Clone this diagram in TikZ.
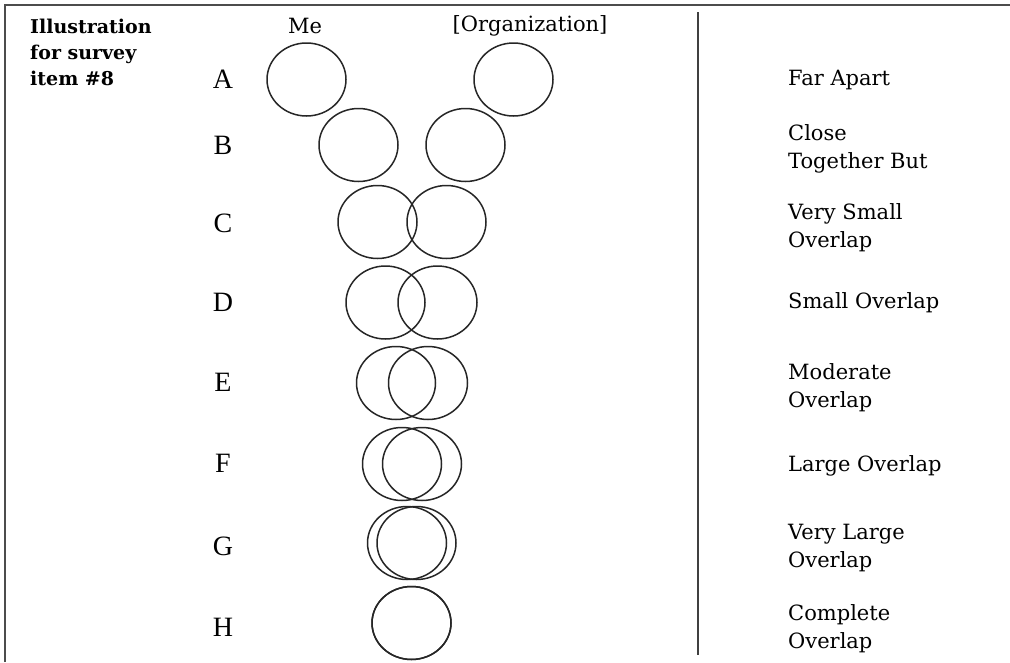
\documentclass[tikz,border=0pt]{standalone}
\usepackage{fontspec}
\setmainfont{DejaVu Serif}
\newfontfamily\letterfont{Liberation Serif}
\usetikzlibrary{shapes.geometric}
\begin{document}
\begin{tikzpicture}[x=1pt,y=-1pt,
  ring/.style={draw=black!85,ellipse,line width=1.5pt,minimum width=79pt,minimum height=73pt,inner sep=0pt},
  rowletter/.style={font=\letterfont\fontsize{28}{30}\selectfont,inner sep=0pt},
  lbl/.style={anchor=west,align=left,font=\fontsize{21}{28}\selectfont,inner sep=0pt},
  head/.style={font=\fontsize{21}{24}\selectfont,inner sep=0pt},
  frame/.style={draw=black!70,line width=2pt}]
\useasboundingbox (0,0) rectangle (1010,662);
% frame
\coordinate (f1) at (5,662);
\coordinate (f2) at (5,5);
\coordinate (f3) at (1010,5);
\draw[frame] (f1) -- (f2) -- (f3);
% divider
\coordinate (d1) at (698,12);
\coordinate (d2) at (698,655);
\draw[draw=black!75,line width=1.6pt] (d1) -- (d2);
% title
\node[anchor=north west,align=left,inner sep=0pt,font=\bfseries\fontsize{19}{26}\selectfont] (title) at (30,19) {Illustration\\for survey\\item \#8};
% headers
\node[head] (me) at (305,26) {Me};
\node[head] (org) at (530,26) {[Organization]};
% letters
\node[rowletter] (lA) at (223,79) {A};
\node[rowletter] (lB) at (223,145) {B};
\node[rowletter] (lC) at (223,223) {C};
\node[rowletter] (lD) at (223,302) {D};
\node[rowletter] (lE) at (223,382) {E};
\node[rowletter] (lF) at (223,463) {F};
\node[rowletter] (lG) at (223,546) {G};
\node[rowletter] (lH) at (223,627) {H};
% circles
\node[ring] (A1) at (306.5,79.5) {};
\node[ring] (A2) at (513.5,79.5) {};
\node[ring] (B1) at (358.5,145) {};
\node[ring] (B2) at (465.5,145) {};
\node[ring] (C1) at (377.5,222) {};
\node[ring] (C2) at (446.5,222) {};
\node[ring] (D1) at (385.5,302.5) {};
\node[ring] (D2) at (437.5,302.5) {};
\node[ring] (E1) at (396,383) {};
\node[ring] (E2) at (428,383) {};
\node[ring] (F1) at (402,464) {};
\node[ring] (F2) at (422,464) {};
\node[ring] (G1) at (407,543) {};
\node[ring] (G2) at (416.5,543) {};
\node[ring] (H1) at (411.5,623) {};
\node[ring] (H2) at (411.5,623) {};
% labels
\node[lbl] (tA) at (788,80) {Far Apart};
\node[lbl] (tB) at (788,149) {Close\\Together But};
\node[lbl] (tC) at (788,228) {Very Small\\Overlap};
\node[lbl] (tD) at (788,303) {Small Overlap};
\node[lbl] (tE) at (788,388) {Moderate\\Overlap};
\node[lbl] (tF) at (788,466) {Large Overlap};
\node[lbl] (tG) at (788,548) {Very Large\\Overlap};
\node[lbl] (tH) at (788,629) {Complete\\Overlap};
\end{tikzpicture}
\end{document}
